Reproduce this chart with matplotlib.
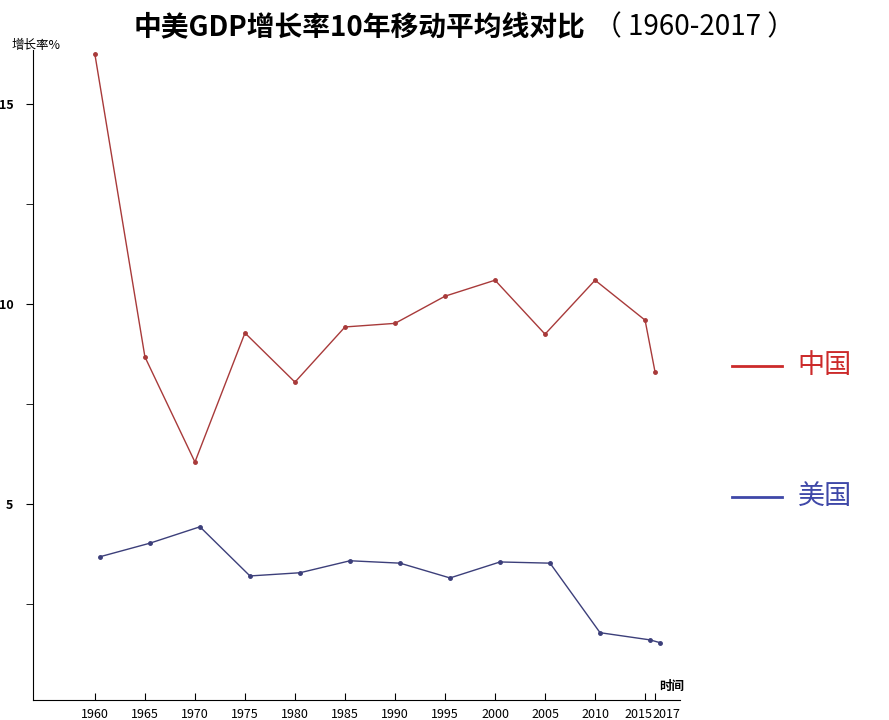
import matplotlib
matplotlib.use('Agg')
import matplotlib.pyplot as plt
import matplotlib.transforms as mtransforms
import numpy as np

plt.rcParams['font.family'] = ['Noto Sans CJK SC', 'DejaVu Sans']

# 10-year moving average of GDP growth, China vs USA
years = [1960, 1965, 1970, 1975, 1980, 1985, 1990, 1995, 2000, 2005, 2010, 2015, 2017]
china = [16.25, 8.68, 6.05, 9.28, 8.05, 9.43, 9.52, 10.2, 10.6, 9.25, 10.6, 9.6, 8.3]
usa = [3.68, 4.02, 4.43, 3.2, 3.28, 3.58, 3.52, 3.15, 3.55, 3.52, 1.78, 1.6, 1.53]
xtick_labels = [str(y) for y in years]


# the original axis squeezes the years after 2015 to half width
def fwd(x):
    x = np.asarray(x, dtype=float)
    return np.where(x <= 2015, x, 2015 + (x - 2015) * 0.5)


def inv(x):
    x = np.asarray(x, dtype=float)
    return np.where(x <= 2015, x, 2015 + (x - 2015) * 2.0)


fig = plt.figure(figsize=(8.89, 7.2), dpi=100)
ax = fig.add_axes([0.037, 0.028, 0.728, 0.902])
ax.set_xscale('function', functions=(fwd, inv))

ax.plot(years, china, color='#a83a3a', lw=1, marker='o', ms=2.5)
# US series sits a few pixels to the right in the original
us_trans = mtransforms.offset_copy(ax.transData, fig=fig, x=0.05, y=0, units='inches')
ax.plot(years, usa, color='#3c3f7a', lw=1, marker='o', ms=2.5, transform=us_trans)

ax.set_xlim(1953.8, 2022)
ax.set_ylim(0.1, 16.35)

ax.set_xticks(years)
ax.set_xticklabels(xtick_labels, fontsize=9)
ax.minorticks_off()
ax.tick_params(axis='x', direction='in', length=5, pad=6)
labs = ax.get_xticklabels()
labs[-2].set_transform(labs[-2].get_transform() +
                       mtransforms.ScaledTranslation(-0.065, 0, fig.dpi_scale_trans))
labs[-1].set_transform(labs[-1].get_transform() +
                       mtransforms.ScaledTranslation(0.11, 0, fig.dpi_scale_trans))

ax.set_yticks([5, 10, 15])
ax.set_yticklabels(['5', '10', '15'], fontsize=9, fontweight='bold')
ax.set_yticks([2.5, 7.5, 12.5], minor=True)
ax.tick_params(axis='y', which='both', direction='out', length=5, pad=9)

for s in ['top', 'right']:
    ax.spines[s].set_visible(False)

fig.text(0.013, 0.937, '增长率%', fontsize=9, ha='left', va='center')
fig.text(0.756, 0.047, '时间', fontsize=9, ha='center', va='center', fontweight='bold')

fig.text(0.658, 0.962, '中美GDP增长率10年移动平均线对比', fontsize=20, fontweight='bold',
         ha='right', va='center')
fig.text(0.668, 0.962, '（ 1960-2017 ）', fontsize=20, ha='left', va='center')

# legend on the right
fig.add_artist(plt.Line2D([0.823, 0.88], [0.492, 0.492], color='#cc2a2a', lw=2))
fig.text(0.897, 0.492, '中国', color='#cc2a2a', fontsize=19.5, va='center')
fig.add_artist(plt.Line2D([0.823, 0.88], [0.31, 0.31], color='#3f48a8', lw=2))
fig.text(0.897, 0.31, '美国', color='#3f48a8', fontsize=19.5, va='center')

plt.savefig('out.png')
